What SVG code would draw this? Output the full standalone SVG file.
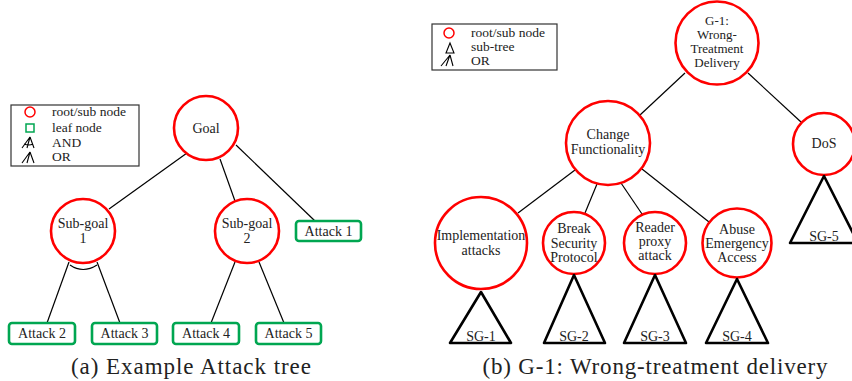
<svg xmlns="http://www.w3.org/2000/svg" width="852" height="381" viewBox="0 0 852 381">
<style>
text{font-family:"Liberation Serif","DejaVu Serif",serif;fill:#222;text-anchor:middle;font-size:14px}
.leg{text-anchor:start;font-size:13.5px}
.sm{font-size:13px}
.cap{font-size:23px}
.rn{fill:#fff;stroke:#f00;stroke-width:2.6}
.lf{fill:#fff;stroke:#00a651;stroke-width:2.6}
.st{fill:#fff;stroke:#000;stroke-width:2.6;stroke-linejoin:round}
.ln{stroke:#000;stroke-width:1.2;fill:none}
.box{fill:#fff;stroke:#333;stroke-width:1.2}
.ic{stroke:#000;stroke-width:1.1;fill:none}
</style>
<g id="connectors">
<line class="ln" x1="187" y1="153" x2="109" y2="209"/>
<line class="ln" x1="220" y1="159" x2="235" y2="201"/>
<line class="ln" x1="236" y1="145" x2="315" y2="221"/>
<line class="ln" x1="69" y1="262" x2="47" y2="323"/>
<line class="ln" x1="97" y1="262" x2="120" y2="323"/>
<path class="ln" d="M70,265 Q83,274 97,265"/>
<line class="ln" x1="235" y1="262" x2="211" y2="323"/>
<line class="ln" x1="259" y1="262" x2="284" y2="323"/>
<line class="ln" x1="685" y1="73" x2="640" y2="115"/>
<line class="ln" x1="748" y1="73" x2="801" y2="122"/>
<line class="ln" x1="575" y1="170" x2="518" y2="213"/>
<line class="ln" x1="597" y1="184" x2="585" y2="213"/>
<line class="ln" x1="621" y1="183" x2="642" y2="214"/>
<line class="ln" x1="642" y1="169" x2="709" y2="222"/>
</g>
<g id="legend-a">
<rect class="box" x="11" y="105" width="128" height="61"/>
<circle cx="30" cy="112" r="5" fill="none" stroke="#f00" stroke-width="1.5"/>
<text class="leg" x="52" y="116">root/sub node</text>
<rect x="26" y="124" width="8" height="8" fill="none" stroke="#00a651" stroke-width="1.5"/>
<text class="leg" x="52" y="132">leaf node</text>
<path class="ic" d="M22,148 L30,137 M30,137 L27,148 M30,137 L34,148 M24,144 Q29,146 33,144"/>
<text class="leg" x="52" y="147">AND</text>
<path class="ic" d="M22,163 L30,152 M30,152 L27,163 M30,152 L34,163"/>
<text class="leg" x="52" y="161">OR</text>
</g>
<g id="goal">
<circle class="rn" cx="206" cy="128" r="32"/>
<text x="206" y="133">Goal</text>
</g>
<g id="subgoal1">
<circle class="rn" cx="83" cy="231" r="32"/>
<text x="83" y="228">Sub-goal</text>
<text x="83" y="243">1</text>
</g>
<g id="subgoal2">
<circle class="rn" cx="247" cy="231" r="32"/>
<text x="247" y="228">Sub-goal</text>
<text x="247" y="243">2</text>
</g>
<g id="attack1">
<rect class="lf" x="296" y="221" width="65" height="20" rx="3"/>
<text x="328.5" y="236">Attack 1</text>
</g>
<g id="attack2">
<rect class="lf" x="9" y="323" width="66" height="21" rx="3"/>
<text x="42" y="338">Attack 2</text>
</g>
<g id="attack3">
<rect class="lf" x="92" y="323" width="65" height="21" rx="3"/>
<text x="124.5" y="338">Attack 3</text>
</g>
<g id="attack4">
<rect class="lf" x="173" y="323" width="66" height="21" rx="3"/>
<text x="206" y="338">Attack 4</text>
</g>
<g id="attack5">
<rect class="lf" x="256" y="323" width="65" height="21" rx="3"/>
<text x="288.5" y="338">Attack 5</text>
</g>
<g id="legend-b">
<rect class="box" x="432" y="24" width="125" height="46"/>
<circle cx="449" cy="33" r="5" fill="none" stroke="#f00" stroke-width="1.5"/>
<text class="leg" x="471" y="37">root/sub node</text>
<path class="ic" d="M450,43 L446,53 L454,53 Z"/>
<text class="leg" x="471" y="51">sub-tree</text>
<path class="ic" d="M441,66 L450,55 M450,55 L446,66 M450,55 L453,66"/>
<text class="leg" x="471" y="65">OR</text>
</g>
<g id="g1">
<circle class="rn" cx="717" cy="43" r="41.5"/>
<text class="sm" x="717" y="25">G-1:</text>
<text class="sm" x="717" y="39">Wrong-</text>
<text class="sm" x="717" y="53">Treatment</text>
<text class="sm" x="717" y="67">Delivery</text>
</g>
<g id="change-functionality">
<circle class="rn" cx="608" cy="143" r="42"/>
<text x="608" y="139">Change</text>
<text x="608" y="154">Functionality</text>
</g>
<g id="dos">
<circle class="rn" cx="824" cy="144" r="31"/>
<text x="824" y="148">DoS</text>
</g>
<g id="implementation-attacks">
<circle class="rn" cx="481" cy="243" r="46"/>
<text x="481" y="240">Implementation</text>
<text x="481" y="255">attacks</text>
</g>
<g id="break-security-protocol">
<circle class="rn" cx="574" cy="243" r="31"/>
<text x="574" y="233">Break</text>
<text x="574" y="248">Security</text>
<text x="574" y="262">Protocol</text>
</g>
<g id="reader-proxy-attack">
<circle class="rn" cx="655" cy="243" r="31"/>
<text x="655" y="232">Reader</text>
<text x="655" y="246">proxy</text>
<text x="655" y="260">attack</text>
</g>
<g id="abuse-emergency-access">
<circle class="rn" cx="737" cy="243" r="34.5"/>
<text x="737" y="234">Abuse</text>
<text x="737" y="248">Emergency</text>
<text x="737" y="262">Access</text>
</g>
<g id="sg1">
<path class="st" d="M481,292 L511,343 L450,343 Z"/>
<text x="481" y="341">SG-1</text>
</g>
<g id="sg2">
<path class="st" d="M574,275 L605,343 L544,343 Z"/>
<text x="574" y="341">SG-2</text>
</g>
<g id="sg3">
<path class="st" d="M655,275 L686,343 L624,343 Z"/>
<text x="655" y="341">SG-3</text>
</g>
<g id="sg4">
<path class="st" d="M737,279 L768,343 L706,343 Z"/>
<text x="737" y="341">SG-4</text>
</g>
<g id="sg5">
<path class="st" d="M824,176 L858,243 L790,243 Z"/>
<text x="824" y="241">SG-5</text>
</g>
<text class="cap" x="191" y="374" textLength="240" lengthAdjust="spacing">(a) Example Attack tree</text>
<text class="cap" x="655" y="374" textLength="345" lengthAdjust="spacing">(b) G-1: Wrong-treatment delivery</text>
</svg>
